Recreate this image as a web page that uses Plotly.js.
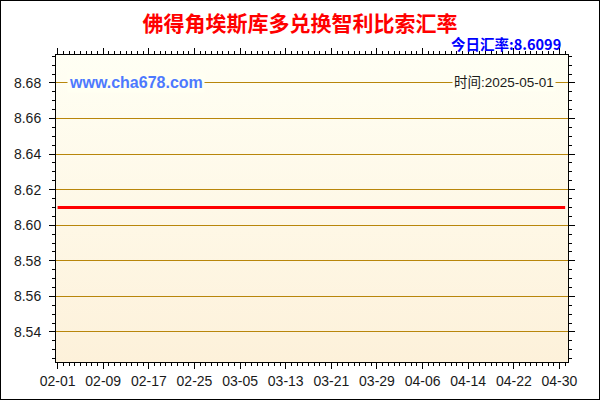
<!DOCTYPE html>
<html>
<head>
<meta charset="utf-8">
<script src="https://cdn.plot.ly/plotly-3.0.1.min.js"></script>
<style>
  html, body { margin: 0; padding: 0; background: #fff; }
  #frame { width: 600px; height: 400px; box-sizing: border-box; border: 1px solid #000; }
  #chart { width: 598px; height: 398px; }
</style>
</head>
<body>
<div id="frame"><div id="chart"></div></div>
<script>
// ── Data ──────────────────────────────────────────────────────────────────
const dates = ['2025-02-01', '2025-02-09', '2025-02-17', '2025-02-25', '2025-03-05', '2025-03-13',
               '2025-03-21', '2025-03-29', '2025-04-06', '2025-04-14', '2025-04-22', '2025-04-30', '2025-05-01'];
const rates = [8.6099, 8.6099, 8.6099, 8.6099, 8.6099, 8.6099,
               8.6099, 8.6099, 8.6099, 8.6099, 8.6099, 8.6099, 8.6099];
const titleText = '佛得角埃斯库多兑换智利比索汇率';
const todayText = '今日汇率:8.6099';
const siteText = 'www.cha678.com';
const timeText = '时间:2025-05-01';

const DAY = 86400000;
const BASE_FONT = 'Liberation Sans, Arial, Noto Sans CJK SC, sans-serif';
const CJK_FONT = 'Noto Sans CJK SC, Liberation Sans, sans-serif';

// plot background: soft cream gradient, top lighter than bottom
const gradSvg = '<svg xmlns="http://www.w3.org/2000/svg" width="10" height="100" preserveAspectRatio="none">' +
    '<defs><linearGradient id="g" x1="0" y1="0" x2="0" y2="1">' +
    '<stop offset="0" stop-color="#fffff4"/><stop offset="1" stop-color="#fdf1da"/></linearGradient></defs>' +
    '<rect width="10" height="100" fill="url(#g)"/></svg>';
const gradUri = 'data:image/svg+xml;charset=utf-8,' + encodeURIComponent(gradSvg);

const trace = {
    type: 'scatter', mode: 'lines',
    x: dates, y: rates,
    line: { color: '#ff0000', width: 3 },
    hoverinfo: 'skip', showlegend: false
};

const layout = {
    width: 598, height: 398,
    margin: { l: 55, r: 31, t: 54, b: 37 },
    paper_bgcolor: '#ffffff',
    plot_bgcolor: 'rgba(0,0,0,0)',
    font: { family: BASE_FONT, size: 14, color: '#1a1a1a' },
    title: {
        text: '<b>' + titleText + '</b>',
        font: { family: CJK_FONT, size: 21, color: '#ff0000' },
        x: 0.5, xanchor: 'center', y: 0.942, yanchor: 'middle'
    },
    xaxis: {
        type: 'date',
        range: [new Date('2025-02-01T00:00:00Z').getTime() - 0.28 * DAY,
                new Date('2025-05-01T00:00:00Z').getTime() + 0.5 * DAY],
        tick0: '2025-02-01', dtick: 8 * DAY, tickformat: '%m-%d',
        ticks: 'outside', ticklen: 6, tickcolor: '#000', tickwidth: 1,
        minor: { dtick: DAY, tick0: '2025-02-01', ticks: 'outside', ticklen: 3, tickcolor: '#000', showgrid: false },
        showgrid: false, zeroline: false,
        showline: true, linecolor: '#000', linewidth: 1, mirror: 'ticks',
        tickfont: { size: 14, color: '#1a1a1a' }
    },
    yaxis: {
        range: [8.5231, 8.6957],
        tick0: 8.54, dtick: 0.02, tickformat: '.2f',
        ticks: 'outside', ticklen: 6, tickcolor: '#000', tickwidth: 1,
        ticklabelstandoff: 5,
        minor: { dtick: 0.005, tick0: 8.54, ticks: 'outside', ticklen: 3, tickcolor: '#000', showgrid: false },
        showgrid: true, gridcolor: '#b8860b', gridwidth: 1, zeroline: false,
        showline: true, linecolor: '#000', linewidth: 1, mirror: 'ticks',
        tickfont: { size: 14, color: '#1a1a1a' }
    },
    images: [{
        source: gradUri, xref: 'paper', yref: 'paper',
        x: 0, y: 1, sizex: 1, sizey: 1, sizing: 'stretch', layer: 'below'
    }],
    annotations: [
        { text: '<b>' + todayText + '</b>', xref: 'paper', yref: 'paper',
          x: 0.99, y: 1.039, xanchor: 'right', yanchor: 'middle', showarrow: false,
          font: { family: CJK_FONT, size: 14.5, color: '#0000ff' } },
        { text: '<b>' + siteText + '</b>', xref: 'paper', yref: 'paper',
          x: 0.022, y: 0.909, xanchor: 'left', yanchor: 'middle', showarrow: false,
          bgcolor: '#fffff2', borderpad: 1,
          font: { family: BASE_FONT, size: 16, color: '#4d79ff' } },
        { text: timeText, xref: 'paper', yref: 'paper',
          x: 0.977, y: 0.909, xanchor: 'right', yanchor: 'middle', showarrow: false,
          bgcolor: '#fffff2', borderpad: 1,
          font: { family: BASE_FONT, size: 13.5, color: '#1a1a1a' } }
    ]
};

Plotly.newPlot('chart', [trace], layout, { displayModeBar: false, staticPlot: true });
</script>
</body>
</html>
